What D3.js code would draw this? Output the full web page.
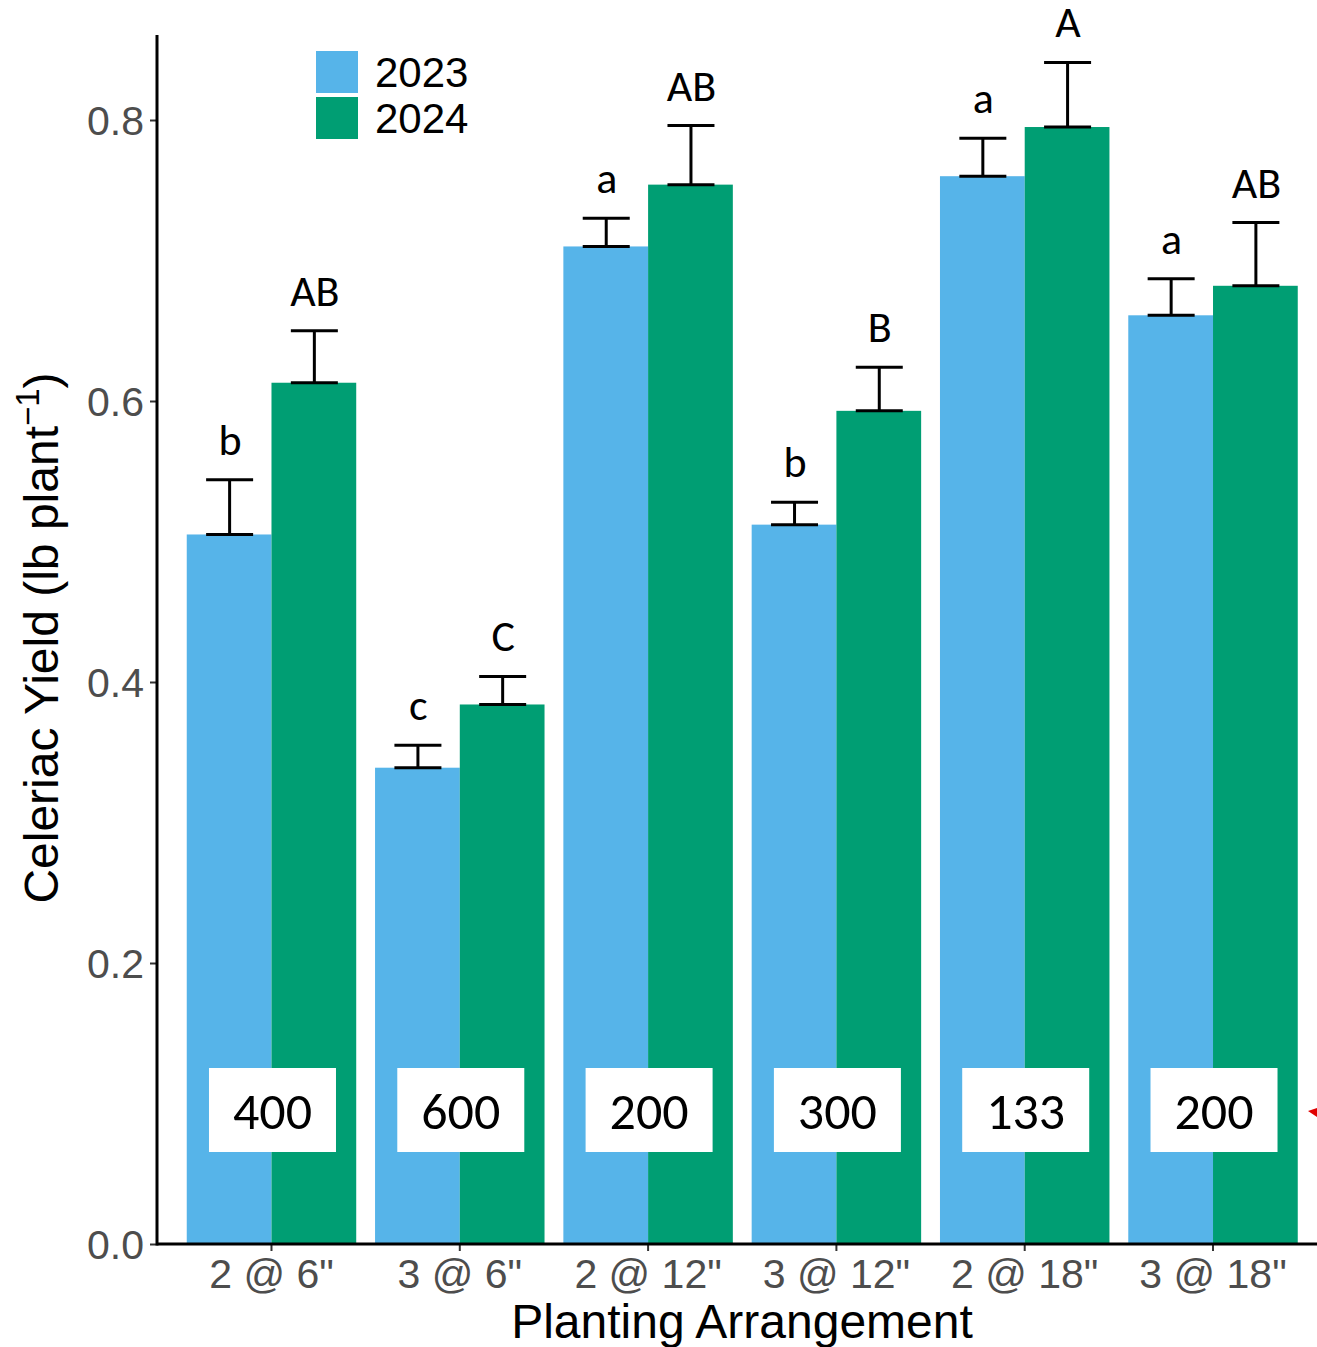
<!DOCTYPE html>
<html><head><meta charset="utf-8">
<script src="https://cdn.jsdelivr.net/npm/d3@7"></script>
<style>html,body{margin:0;padding:0;background:#fff;}svg{display:block;}</style>
</head><body>
<svg id="chart" width="1317" height="1347"></svg>
<script>
const categories = ['2 @ 6"', '3 @ 6"', '2 @ 12"', '3 @ 12"', '2 @ 18"', '3 @ 18"'];
const years = ["2023", "2024"];
const yield2023 = [0.505, 0.339, 0.710, 0.512, 0.760, 0.661];
const se2023    = [0.039, 0.016, 0.020, 0.016, 0.027, 0.026];
const yield2024 = [0.613, 0.384, 0.754, 0.593, 0.795, 0.682];
const se2024    = [0.037, 0.020, 0.042, 0.031, 0.046, 0.045];
const letters2023 = ["b", "c", "a", "b", "a", "a"];
const letters2024 = ["AB", "C", "AB", "B", "A", "AB"];
const densities = ["400", "600", "200", "300", "133", "200"];
const yTicks = [0.0, 0.2, 0.4, 0.6, 0.8];
const colors = ["#56B4E9", "#009E73"];

const svg = d3.select("#chart");
const plotLeft = 158.5, plotRight = 1326, plotBottom = 1244, plotTop = 35;

const x = d3.scaleBand().domain(categories).range([plotLeft, plotRight]).paddingInner(0.1).paddingOuter(0.15);
const xs = d3.scaleBand().domain(years).range([0, x.bandwidth()]);
const y = d3.scaleLinear().domain([0, 0.8]).range([plotBottom, 120]);

const rows = [];
categories.forEach((c, i) => {
  rows.push({cat: c, year: "2023", v: yield2023[i], se: se2023[i], lab: letters2023[i]});
  rows.push({cat: c, year: "2024", v: yield2024[i], se: se2024[i], lab: letters2024[i]});
});

// bars
svg.append("g").selectAll("rect").data(rows).join("rect")
  .attr("x", d => x(d.cat) + xs(d.year))
  .attr("y", d => y(d.v))
  .attr("width", xs.bandwidth())
  .attr("height", d => y(0) - y(d.v))
  .attr("fill", d => colors[years.indexOf(d.year)]);

// error bars (upper only)
const eb = svg.append("g").attr("stroke", "#000").attr("stroke-width", 3);
const capHalf = 23.5;
rows.forEach(d => {
  const cx = x(d.cat) + xs(d.year) + xs.bandwidth() / 2 + 0.5;
  eb.append("line").attr("x1", cx).attr("x2", cx).attr("y1", y(d.v)).attr("y2", y(d.v + d.se));
  eb.append("line").attr("x1", cx - capHalf).attr("x2", cx + capHalf).attr("y1", y(d.v + d.se)).attr("y2", y(d.v + d.se));
  eb.append("line").attr("x1", cx - capHalf).attr("x2", cx + capHalf).attr("y1", y(d.v)).attr("y2", y(d.v));
});

// letters
svg.append("g").selectAll("text").data(rows).join("text")
  .attr("x", d => x(d.cat) + xs(d.year) + xs.bandwidth() / 2 + 1)
  .attr("y", d => y(d.v + d.se) - 25)
  .attr("text-anchor", "middle")
  .attr("font-family", "Carlito, Calibri, Lato, sans-serif")
  .attr("font-size", 44)
  .attr("fill", "#000")
  .text(d => d.lab);

// density boxes
const boxes = svg.append("g");
categories.forEach((c, i) => {
  const cx = x(c) + x.bandwidth() / 2 + 1;
  boxes.append("rect").attr("x", cx - 63.5).attr("y", 1068).attr("width", 127).attr("height", 84).attr("fill", "#fff");
  boxes.append("text").attr("x", cx).attr("y", 1129)
    .attr("text-anchor", "middle")
    .attr("font-family", "Carlito, Calibri, Lato, sans-serif")
    .attr("font-size", 52).attr("fill", "#000").text(densities[i]);
});

// axes
const xAxis = svg.append("g").attr("transform", `translate(0,${plotBottom})`)
  .call(d3.axisBottom(x).tickSize(7).tickPadding(8));
xAxis.select(".domain").remove();
xAxis.selectAll(".tick line").attr("stroke", "#333").attr("stroke-width", 2);
xAxis.selectAll(".tick text").attr("font-family", "Liberation Sans, Arial, sans-serif")
  .attr("font-size", 41).attr("fill", "#4D4D4D");
svg.append("line").attr("x1", 157).attr("x2", 1317).attr("y1", plotBottom).attr("y2", plotBottom)
  .attr("stroke", "#000").attr("stroke-width", 3);

const yAxis = svg.append("g").attr("transform", `translate(157,0)`)
  .call(d3.axisLeft(y).tickValues(yTicks).tickFormat(d3.format(".1f")).tickSize(7).tickPadding(6));
yAxis.select(".domain").remove();
yAxis.selectAll(".tick line").attr("stroke", "#333").attr("stroke-width", 2);
yAxis.selectAll(".tick text").attr("font-family", "Liberation Sans, Arial, sans-serif")
  .attr("font-size", 41).attr("fill", "#4D4D4D").attr("dy", "0.36em");
svg.append("line").attr("x1", 157).attr("x2", 157).attr("y1", plotTop).attr("y2", plotBottom + 1.5)
  .attr("stroke", "#000").attr("stroke-width", 3);

// axis titles
svg.append("text").attr("x", 742).attr("y", 1338).attr("text-anchor", "middle")
  .attr("font-family", "Liberation Sans, Arial, sans-serif").attr("font-size", 48).attr("fill", "#000")
  .text("Planting Arrangement");
const yt = svg.append("text").attr("transform", "translate(58,638) rotate(-90)").attr("text-anchor", "middle")
  .attr("font-family", "Liberation Sans, Arial, sans-serif").attr("font-size", 48).attr("fill", "#000");
yt.append("tspan").text("Celeriac Yield (lb plant");
yt.append("tspan").attr("font-size", 33).attr("dy", -19).text("\u22121");
yt.append("tspan").attr("dy", 19).text(")");

// legend
const lg = svg.append("g");
years.forEach((yr, i) => {
  lg.append("rect").attr("x", 316).attr("y", 51 + i * 46).attr("width", 42).attr("height", 42).attr("fill", colors[i]);
  lg.append("text").attr("x", 375).attr("y", 87 + i * 46)
    .attr("font-family", "Liberation Sans, Arial, sans-serif").attr("font-size", 42).attr("fill", "#000").text(yr);
});

// small red annotation mark at right edge
svg.append("path").attr("d", "M1308,1111 L1317,1108 L1317,1117 Z").attr("fill", "#E00000");
</script>
</body></html>
